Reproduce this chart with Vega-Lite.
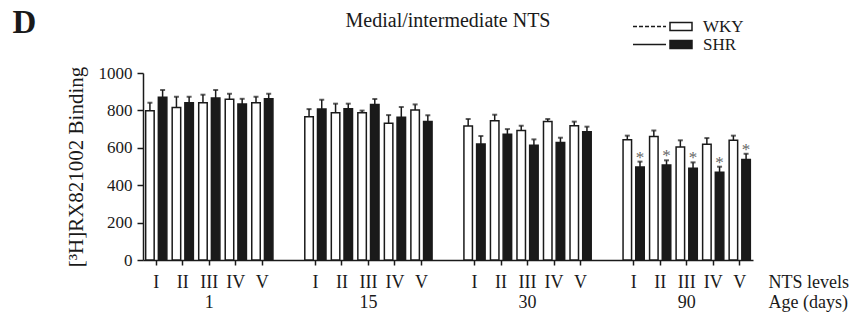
{
  "$schema": "https://vega.github.io/schema/vega-lite/v6.json",
  "width": 610,
  "height": 187,
  "autosize": {"type": "none"},
  "padding": {"left": 143, "top": 73, "right": 101, "bottom": 62},
  "background": "white",
  "title": {"text": "Medial/intermediate NTS", "font": "Liberation Serif", "fontSize": 20, "fontWeight": "normal", "color": "#1a1a1a", "anchor": "middle", "offset": -25},
  "config": {"view": {"stroke": null}, "font": "Liberation Serif", "axis": {"grid": false}},
  "data": {"values": [
    {"slot": "1-I", "age": "1", "level": "I", "strain": "WKY", "value": 798, "upper": 841, "sig": false},
    {"slot": "1-I", "age": "1", "level": "I", "strain": "SHR", "value": 870, "upper": 909, "sig": false},
    {"slot": "1-II", "age": "1", "level": "II", "strain": "WKY", "value": 815, "upper": 873, "sig": false},
    {"slot": "1-II", "age": "1", "level": "II", "strain": "SHR", "value": 841, "upper": 873, "sig": false},
    {"slot": "1-III", "age": "1", "level": "III", "strain": "WKY", "value": 841, "upper": 884, "sig": false},
    {"slot": "1-III", "age": "1", "level": "III", "strain": "SHR", "value": 866, "upper": 909, "sig": false},
    {"slot": "1-IV", "age": "1", "level": "IV", "strain": "WKY", "value": 859, "upper": 889, "sig": false},
    {"slot": "1-IV", "age": "1", "level": "IV", "strain": "SHR", "value": 834, "upper": 862, "sig": false},
    {"slot": "1-V", "age": "1", "level": "V", "strain": "WKY", "value": 841, "upper": 873, "sig": false},
    {"slot": "1-V", "age": "1", "level": "V", "strain": "SHR", "value": 862, "upper": 889, "sig": false},
    {"slot": "15-I", "age": "15", "level": "I", "strain": "WKY", "value": 766, "upper": 807, "sig": false},
    {"slot": "15-I", "age": "15", "level": "I", "strain": "SHR", "value": 807, "upper": 857, "sig": false},
    {"slot": "15-II", "age": "15", "level": "II", "strain": "WKY", "value": 788, "upper": 836, "sig": false},
    {"slot": "15-II", "age": "15", "level": "II", "strain": "SHR", "value": 809, "upper": 836, "sig": false},
    {"slot": "15-III", "age": "15", "level": "III", "strain": "WKY", "value": 788, "upper": 799, "sig": false},
    {"slot": "15-III", "age": "15", "level": "III", "strain": "SHR", "value": 831, "upper": 861, "sig": false},
    {"slot": "15-IV", "age": "15", "level": "IV", "strain": "WKY", "value": 731, "upper": 775, "sig": false},
    {"slot": "15-IV", "age": "15", "level": "IV", "strain": "SHR", "value": 763, "upper": 818, "sig": false},
    {"slot": "15-V", "age": "15", "level": "V", "strain": "WKY", "value": 802, "upper": 832, "sig": false},
    {"slot": "15-V", "age": "15", "level": "V", "strain": "SHR", "value": 740, "upper": 774, "sig": false},
    {"slot": "30-I", "age": "30", "level": "I", "strain": "WKY", "value": 717, "upper": 754, "sig": false},
    {"slot": "30-I", "age": "30", "level": "I", "strain": "SHR", "value": 620, "upper": 663, "sig": false},
    {"slot": "30-II", "age": "30", "level": "II", "strain": "WKY", "value": 745, "upper": 777, "sig": false},
    {"slot": "30-II", "age": "30", "level": "II", "strain": "SHR", "value": 672, "upper": 700, "sig": false},
    {"slot": "30-III", "age": "30", "level": "III", "strain": "WKY", "value": 692, "upper": 718, "sig": false},
    {"slot": "30-III", "age": "30", "level": "III", "strain": "SHR", "value": 613, "upper": 645, "sig": false},
    {"slot": "30-IV", "age": "30", "level": "IV", "strain": "WKY", "value": 740, "upper": 754, "sig": false},
    {"slot": "30-IV", "age": "30", "level": "IV", "strain": "SHR", "value": 628, "upper": 654, "sig": false},
    {"slot": "30-V", "age": "30", "level": "V", "strain": "WKY", "value": 718, "upper": 740, "sig": false},
    {"slot": "30-V", "age": "30", "level": "V", "strain": "SHR", "value": 686, "upper": 713, "sig": false},
    {"slot": "90-I", "age": "90", "level": "I", "strain": "WKY", "value": 643, "upper": 665, "sig": false},
    {"slot": "90-I", "age": "90", "level": "I", "strain": "SHR", "value": 497, "upper": 526, "sig": true},
    {"slot": "90-II", "age": "90", "level": "II", "strain": "WKY", "value": 661, "upper": 692, "sig": false},
    {"slot": "90-II", "age": "90", "level": "II", "strain": "SHR", "value": 508, "upper": 533, "sig": true},
    {"slot": "90-III", "age": "90", "level": "III", "strain": "WKY", "value": 604, "upper": 640, "sig": false},
    {"slot": "90-III", "age": "90", "level": "III", "strain": "SHR", "value": 490, "upper": 522, "sig": true},
    {"slot": "90-IV", "age": "90", "level": "IV", "strain": "WKY", "value": 619, "upper": 652, "sig": false},
    {"slot": "90-IV", "age": "90", "level": "IV", "strain": "SHR", "value": 469, "upper": 499, "sig": true},
    {"slot": "90-V", "age": "90", "level": "V", "strain": "WKY", "value": 640, "upper": 665, "sig": false},
    {"slot": "90-V", "age": "90", "level": "V", "strain": "SHR", "value": 538, "upper": 568, "sig": true}
  ]},
  "resolve": {"axis": {"x": "independent"}},
  "layer": [
    {
      "mark": {"type": "bar", "stroke": "#1a1a1a", "strokeWidth": 1.5},
      "encoding": {
        "x": {"field": "slot", "type": "nominal", "sort": null,
          "scale": {"domain": ["1-I","1-II","1-III","1-IV","1-V","gap1","15-I","15-II","15-III","15-IV","15-V","gap2","30-I","30-II","30-III","30-IV","30-V","gap3","90-I","90-II","90-III","90-IV","90-V"], "paddingInner": 0, "paddingOuter": 0},
          "axis": {"orient": "bottom",
            "values": ["1-I","1-II","1-III","1-IV","1-V","15-I","15-II","15-III","15-IV","15-V","30-I","30-II","30-III","30-IV","30-V","90-I","90-II","90-III","90-IV","90-V"],
            "labelExpr": "split(datum.value,'-')[1] == 'III' ? ['III', split(datum.value,'-')[0]] : split(datum.value,'-')[1]",
            "labelAngle": 0, "labelFontSize": 18, "labelColor": "#1a1a1a", "labelBaseline": "top", "labelPadding": 8, "labelLineHeight": 20, "labelOverlap": false, "labelBound": false,
            "domainColor": "#1a1a1a", "domainWidth": 1.5, "tickColor": "#1a1a1a", "tickSize": 5, "tickWidth": 1.5,
            "title": ["NTS levels", "Age (days)"], "titleX": 625, "titleY": 13, "titleAlign": "left", "titleBaseline": "top", "titleLineHeight": 20, "titleFontSize": 18, "titleFontWeight": "normal", "titleColor": "#1a1a1a"}},
        "xOffset": {"field": "strain", "type": "nominal", "scale": {"domain": ["WKY","SHR"], "paddingInner": 0.33, "paddingOuter": 0.21}},
        "y": {"field": "value", "type": "quantitative", "title": "[³H]RX821002 Binding",
          "scale": {"domain": [0, 1000]},
          "axis": {"values": [0,200,400,600,800,1000], "format": "d", "tickCount": 6, "labelOverlap": false, "labelFontSize": 17, "labelColor": "#1a1a1a", "labelPadding": 5, "tickSize": 6, "tickWidth": 1.5, "tickColor": "#1a1a1a", "domainColor": "#1a1a1a", "domainWidth": 1.5, "titleFontSize": 21, "titleFontWeight": "normal", "titleColor": "#1a1a1a", "titlePadding": 12}},
        "fill": {"field": "strain", "type": "nominal",
          "scale": {"domain": ["WKY","SHR"], "range": ["#ffffff", "#1a1a1a"]},
          "legend": {"orient": "none", "legendX": 529.5, "legendY": -55, "title": null, "padding": 0, "rowPadding": 0,
            "symbolType": "M-2,-0.72H2V0.72H-2Z", "symbolSize": 121, "symbolStrokeColor": "#1a1a1a", "symbolStrokeWidth": 1.5,
            "labelFontSize": 17, "labelColor": "#1a1a1a", "labelOffset": 13.5}}
      }
    },
    {
      "mark": {"type": "rule", "color": "#1a1a1a", "strokeWidth": 1.5},
      "encoding": {
        "x": {"field": "slot", "type": "nominal", "axis": null},
        "xOffset": {"field": "strain", "type": "nominal"},
        "y": {"field": "value", "type": "quantitative", "title": "[³H]RX821002 Binding",
          "axis": {"values": [0,200,400,600,800,1000], "format": "d", "tickCount": 6, "labelOverlap": false, "labelFontSize": 17, "labelColor": "#1a1a1a", "labelPadding": 5, "tickSize": 6, "tickWidth": 1.5, "tickColor": "#1a1a1a", "domainColor": "#1a1a1a", "domainWidth": 1.5, "titleFontSize": 21, "titleFontWeight": "normal", "titleColor": "#1a1a1a", "titlePadding": 12}},
        "y2": {"field": "upper"}
      }
    },
    {
      "mark": {"type": "tick", "color": "#1a1a1a", "size": 5, "thickness": 2, "orient": "horizontal"},
      "encoding": {
        "x": {"field": "slot", "type": "nominal", "axis": null},
        "xOffset": {"field": "strain", "type": "nominal"},
        "y": {"field": "upper", "type": "quantitative", "title": "[³H]RX821002 Binding",
          "axis": {"values": [0,200,400,600,800,1000], "format": "d", "tickCount": 6, "labelOverlap": false, "labelFontSize": 17, "labelColor": "#1a1a1a", "labelPadding": 5, "tickSize": 6, "tickWidth": 1.5, "tickColor": "#1a1a1a", "domainColor": "#1a1a1a", "domainWidth": 1.5, "titleFontSize": 21, "titleFontWeight": "normal", "titleColor": "#1a1a1a", "titlePadding": 12}}
      }
    },
    {
      "transform": [{"filter": "datum.sig"}],
      "mark": {"type": "text", "text": "*", "fontSize": 17, "color": "#666666", "baseline": "alphabetic", "dy": 1},
      "encoding": {
        "x": {"field": "slot", "type": "nominal", "axis": null},
        "xOffset": {"field": "strain", "type": "nominal"},
        "y": {"field": "upper", "type": "quantitative", "title": "[³H]RX821002 Binding",
          "axis": {"values": [0,200,400,600,800,1000], "format": "d", "tickCount": 6, "labelOverlap": false, "labelFontSize": 17, "labelColor": "#1a1a1a", "labelPadding": 5, "tickSize": 6, "tickWidth": 1.5, "tickColor": "#1a1a1a", "domainColor": "#1a1a1a", "domainWidth": 1.5, "titleFontSize": 21, "titleFontWeight": "normal", "titleColor": "#1a1a1a", "titlePadding": 12}}
      }
    },
    {
      "data": {"values": []},
      "mark": {"type": "line", "color": "#1a1a1a", "strokeWidth": 1.5},
      "encoding": {
        "x": {"field": "slot", "type": "nominal",
          "axis": {"orient": "top", "domain": false, "ticks": false, "labels": false, "title": "D", "titleFontSize": 33, "titleFontWeight": "bold", "titleColor": "#1a1a1a", "titleX": -131, "titleY": -41, "titleAlign": "left", "titleBaseline": "alphabetic"}},
        "y": {"field": "value", "type": "quantitative", "title": "[³H]RX821002 Binding",
          "axis": {"values": [0,200,400,600,800,1000], "format": "d", "tickCount": 6, "labelOverlap": false, "labelFontSize": 17, "labelColor": "#1a1a1a", "labelPadding": 5, "tickSize": 6, "tickWidth": 1.5, "tickColor": "#1a1a1a", "domainColor": "#1a1a1a", "domainWidth": 1.5, "titleFontSize": 21, "titleFontWeight": "normal", "titleColor": "#1a1a1a", "titlePadding": 12}},
        "strokeDash": {"field": "line", "type": "nominal",
          "scale": {"domain": ["WKY line","SHR line"], "range": [[4,2],[1,0]]},
          "legend": {"orient": "none", "legendX": 498, "legendY": -55, "title": null, "padding": 0, "rowPadding": 0,
            "symbolType": "M-3,0H3", "symbolSize": 121, "symbolStrokeColor": "#1a1a1a", "symbolStrokeWidth": 1.5, "symbolFillColor": "transparent",
            "labelExpr": "''", "labelFontSize": 17}}
      }
    }
  ]
}
